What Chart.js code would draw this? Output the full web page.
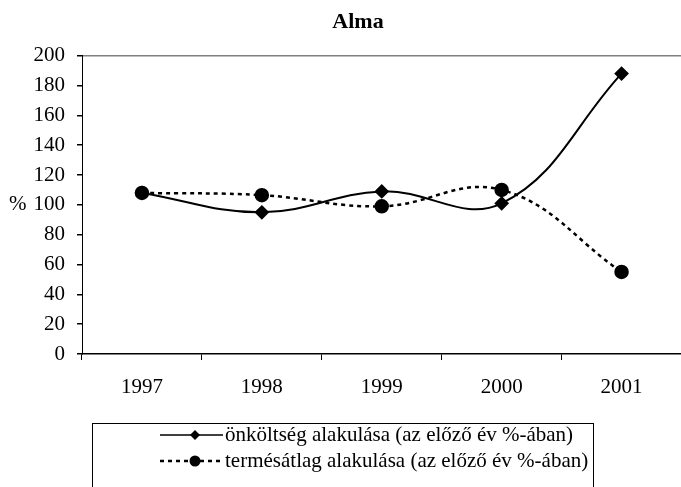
<!DOCTYPE html>
<html>
<head>
<meta charset="utf-8">
<script src="https://cdn.jsdelivr.net/npm/chart.js@4.4.1/dist/chart.umd.min.js"></script>
<style>
  html, body { margin: 0; padding: 0; background: #fff; overflow: hidden; }
  #chart { display: block; }
</style>
</head>
<body>
<canvas id="chart" width="690" height="487"></canvas>
<script>
// Alma - values
const years = ['1997', '1998', '1999', '2000', '2001'];
const costSeries = [108, 95, 109, 101, 188];
const yieldSeries = [108, 106.5, 99, 110, 55];
const costLabel = 'önköltség alakulása (az előző év %-ában)';
const yieldLabel = 'termésátlag alakulása (az előző év %-ában)';

const serif = '"Liberation Serif", "Times New Roman", serif';
const fontSize = 21;

// legend box at the bottom, and the "%" beside the y axis
const extras = {
    id: 'extras',
    afterDraw(chart) {
        const ctx = chart.ctx;
        const yScale = chart.scales.y;
        ctx.save();
        ctx.font = fontSize + 'px ' + serif;
        ctx.fillStyle = '#000';
        ctx.textBaseline = 'middle';
        ctx.textAlign = 'left';
        ctx.fillText('%', 9, yScale.getPixelForValue(100));

        // legend frame
        ctx.strokeStyle = '#000';
        ctx.lineWidth = 1;
        ctx.strokeRect(92.5, 423.5, 501, 80);

        const rows = [
            { label: costLabel, y: 435, dash: [], style: 'diamond' },
            { label: yieldLabel, y: 461, dash: [4, 4], style: 'circle' }
        ];
        rows.forEach(function(r) {
            ctx.setLineDash(r.dash);
            ctx.lineWidth = r.dash.length ? 2.5 : 1.5;
            ctx.beginPath();
            ctx.moveTo(160, r.y);
            ctx.lineTo(223, r.y);
            ctx.stroke();
            ctx.setLineDash([]);
            ctx.beginPath();
            if (r.style === 'diamond') {
                ctx.moveTo(195, r.y - 5);
                ctx.lineTo(200, r.y);
                ctx.lineTo(195, r.y + 5);
                ctx.lineTo(190, r.y);
            } else {
                ctx.arc(195, r.y, 5.5, 0, Math.PI * 2);
            }
            ctx.closePath();
            ctx.fill();
            ctx.fillText(r.label, 225, r.y);
        });
        ctx.restore();
    }
};

new Chart(document.getElementById('chart'), {
    type: 'line',
    data: {
        labels: years,
        datasets: [{
            label: costLabel,
            data: costSeries,
            borderColor: '#000',
            backgroundColor: '#000',
            borderWidth: 2,
            tension: 0.4,
            pointStyle: 'rectRot',
            pointRadius: 6,
            pointHoverRadius: 6,
            fill: false
        }, {
            label: yieldLabel,
            data: yieldSeries,
            borderColor: '#000',
            backgroundColor: '#000',
            borderWidth: 2.5,
            borderDash: [4, 4],
            tension: 0.4,
            pointStyle: 'circle',
            pointRadius: 6,
            pointHoverRadius: 6,
            fill: false
        }]
    },
    options: {
        responsive: false,
        animation: false,
        layout: { padding: { left: 26, right: 0, top: 0, bottom: 0 } },
        plugins: {
            legend: { display: false },
            tooltip: { enabled: false },
            title: {
                display: true,
                text: 'Alma',
                color: '#000',
                font: { family: serif, size: 22, weight: 'bold' },
                padding: { top: 9, bottom: 20.3 }
            }
        },
        scales: {
            x: {
                offset: true,
                afterFit: function(scale) { scale.height = 133; },
                ticks: {
                    color: '#000',
                    padding: 15,
                    font: { family: serif, size: fontSize }
                },
                grid: {
                    offset: true,
                    drawOnChartArea: false,
                    tickLength: 6,
                    tickColor: '#000'
                },
                border: { color: '#000', width: 1.5 }
            },
            y: {
                min: 0,
                max: 200,
                afterFit: function(scale) { scale.width = 56; },
                ticks: {
                    stepSize: 20,
                    color: '#000',
                    padding: 12,
                    font: { family: serif, size: fontSize }
                },
                grid: {
                    color: function(c) { return c.tick && c.tick.value === 200 ? '#808080' : 'rgba(0,0,0,0)'; },
                    lineWidth: 1.5,
                    tickLength: 5,
                    tickColor: '#000'
                },
                border: { color: '#000', width: 1 }
            }
        }
    },
    plugins: [extras]
});
</script>
</body>
</html>
